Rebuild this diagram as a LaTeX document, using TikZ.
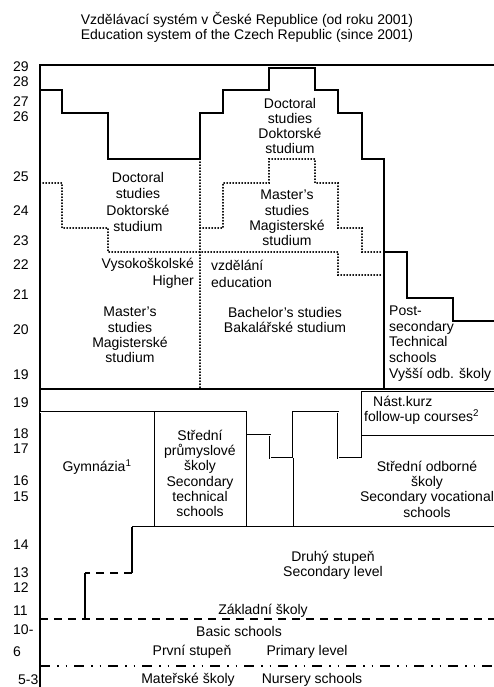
\documentclass[tikz,border=0pt]{standalone}
\usepackage{fontspec}
\setmainfont{Liberation Sans}
\begin{document}
\begin{tikzpicture}[x=1pt,y=-1pt,
  every node/.style={font=\fontsize{14}{15.3}\selectfont, inner sep=0pt, align=center},
  wall/.style={draw, line width=1.6pt, line join=miter},
  dbl/.style={draw=white, line width=0.9pt, line join=miter, preaction={draw=black, line width=2.6pt, line join=miter}},
  dots/.style={draw, line width=1.6pt, line cap=round, dash pattern=on 0.4pt off 2.6pt},
  dashln/.style={draw, line width=1.5pt, dash pattern=on 8pt off 6pt},
  dashdotln/.style={draw, line width=1.5pt, dash pattern=on 10pt off 7pt on 1.5pt off 7pt on 1.5pt off 7pt}]
\useasboundingbox (0,0) rectangle (494,687);
% title
\node (title) at (247,27.5) {Vzdělávací systém v České Republice (od roku 2001)\\Education system of the Czech Republic (since 2001)};
% axis labels
\foreach \t/\yy [count=\i] in {29/67,28/82,27/102,26/117,25/177,24/211,23/241,22/265,21/295,20/330,19/375,19/403,18/434,17/449,16/481,15/497,14/545,13/573,12/588,11/611,10-/630,6/652}
  \node[anchor=west] (ax\i) at (13,\yy) {\t};
\node[anchor=west] (ax53) at (18,680) {5-3};
% frame
\path[wall] (494,65) -- (40,65) -- (40,687);
% higher education outline
\path[wall] (40,90) -- (62,90) -- (62,113) -- (108,113) -- (108,159) -- (200,159) -- (200,113) -- (223,113) -- (223,90) -- (269,90) -- (269,68) -- (315,68) -- (315,90) -- (338,90) -- (338,113) -- (362,113) -- (362,159) -- (384,159) -- (384,389);
% post-secondary
\path[wall] (384,252) -- (407,252) -- (407,298) -- (453,298) -- (453,321) -- (494,321);
\path[wall] (40,389) -- (494,389);
% dotted boundaries
\path[dots] (40,183) -- (62,183) -- (62,228) -- (108,228) -- (108,252) -- (338,252) -- (338,275) -- (382,275);
\path[dots] (200,159) -- (200,389);
\path[dots] (200,228) -- (223,228) -- (223,183) -- (269,183) -- (269,159) -- (315,159) -- (315,183) -- (338,183) -- (338,228) -- (362,228) -- (362,252) -- (382,252);
% secondary
\path[dbl] (40,412) -- (247,412);
\path[wall, line width=1pt] (154,412) -- (154,527);
\path[dbl] (247,412) -- (247,527);
\path[dbl] (247,435) -- (270,435) -- (270,458) -- (293,458) -- (293,412) -- (338,412) -- (338,458) -- (362,458) -- (362,392) -- (494,392);
\path[dbl] (362,436) -- (494,436);
\path[wall, line width=1pt] (293,458) -- (293,527);
\path[dbl] (132,527) -- (494,527);
% basic school steps
\path[wall] (132,527) -- (132,573);
\path[dashln] (132,573) -- (85,573);
\path[wall] (85,573) -- (85,619);
\path[dashln] (40,619) -- (494,619);
\path[dashdotln] (40,666) -- (494,666);
% texts
\node (docR) at (290,126) {Doctoral\\studies\\Doktorské\\studium};
\node[font=\fontsize{14}{16.5}\selectfont] (docL) at (138,202) {Doctoral\\studies\\Doktorské\\studium};
\node (masR) at (287,218) {Master's\\studies\\Magisterské\\studium};
\node[anchor=east, align=right, font=\fontsize{14}{17}\selectfont] (vys) at (194,273.5) {Vysokoškolské\\Higher};
\node[anchor=west, align=left, font=\fontsize{14}{17}\selectfont] (vzd) at (211,273.5) {vzdělání\\education};
\node (masL) at (130,335) {Master's\\studies\\Magisterské\\studium};
\node (bach) at (285,320) {Bachelor's studies\\Bakalářské studium};
\node[anchor=west, align=left, font=\fontsize{14}{15.7}\selectfont] (post) at (389,343.5) {Post-\\secondary\\Technical\\schools\\Vyšší odb. školy};
\node (gym) at (97,467) {Gymnázia\textsuperscript{1}};
\node (sps) at (200,473.5) {Střední\\průmyslové\\školy\\Secondary\\technical\\schools};
\node[anchor=west, align=left] (nast) at (364,410.5) {\hspace{9pt}Nást.kurz\\follow-up courses\textsuperscript{2}};
\node (sos) at (427,489) {Střední odborné\\školy\\Secondary vocational\\schools};
\node (druhy) at (333,565.5) {Druhý stupeň\\Secondary level};
\node (zakl) at (263,611) {Základní školy};
\node (basic) at (239,631) {Basic schools};
\node (prvni) at (192,652) {První stupeň};
\node (prim) at (307,652) {Primary level};
\node (mat) at (188,680) {Mateřské školy};
\node (nurs) at (312,680) {Nursery schools};
\end{tikzpicture}
\end{document}
